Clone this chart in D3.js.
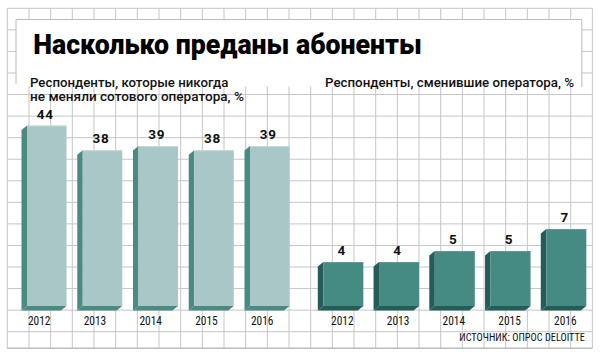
<!DOCTYPE html>
<html><head><meta charset="utf-8">
<script src="https://cdn.jsdelivr.net/npm/d3@7/dist/d3.min.js"></script>
<style>
html,body{margin:0;padding:0;background:#fff;}
svg{display:block;}
</style></head>
<body>
<svg id="chart" width="602" height="362"></svg>
<script>
// ---- data ----
const years = ["2012", "2013", "2014", "2015", "2016"];
const neverChanged = [44, 38, 39, 38, 39];
const changed = [4, 4, 5, 5, 7];
const title = "Насколько преданы абоненты";
const leftSubtitle = ["Респонденты, которые никогда", "не меняли сотового оператора, %"];
const rightSubtitle = "Респонденты, сменившие оператора, %";
const source = "ИСТОЧНИК: ОПРОС DELOITTE";

// ---- layout ----
const svg = d3.select("#chart");
const gridX0 = 7.3, gridX1 = 592.3, gridY0 = 8.3, gridY1 = 348.3;
const cellW = 21.67, cellH = 21.56;
const gridColor = "#c6c6c6";
const base = 306;           // front face bottom
const depth = [-5.5, 4.5];  // 3D extrusion

// grid
const g = svg.append("g");
const vx = d3.range(gridX0, gridX1 + 1, cellW);
g.selectAll("line.v").data(vx).join("line")
  .attr("x1", d => d).attr("x2", d => d)
  .attr("y1", gridY0).attr("y2", gridY1)
  .attr("stroke", gridColor).attr("stroke-width", 1);
const hy = d3.range(gridY0, gridY1 - 5, cellH);
g.selectAll("line.h").data(hy).join("line")
  .attr("x1", gridX0).attr("x2", gridX1)
  .attr("y1", d => d).attr("y2", d => d)
  .attr("stroke", gridColor).attr("stroke-width", 1);
g.append("line").attr("x1", gridX0).attr("x2", gridX1)
  .attr("y1", gridY1).attr("y2", gridY1)
  .attr("stroke", "#bdbdbd").attr("stroke-width", 1.6);

// white header panel
svg.append("rect").attr("x", 16).attr("y", 19.5).attr("width", 566).attr("height", 67)
  .attr("fill", "#fff");
svg.append("path")
  .attr("d", "M16,84 L16,19.5 L581.8,19.5 L581.8,87")
  .attr("fill", "none").attr("stroke", "#bcbcbc").attr("stroke-width", 1);

function fitText(sel, len) {
  sel.attr("textLength", len).attr("lengthAdjust", "spacingAndGlyphs");
  return sel;
}
// title
fitText(svg.append("text").attr("x", 33.3).attr("y", 54)
  .attr("font-family", "Roboto, 'Open Sans', sans-serif").attr("font-weight", 900)
  .attr("font-size", 28).attr("fill", "#000").text(title), 388.5);

const subFont = "Roboto, 'Noto Sans', sans-serif";
fitText(svg.append("text").attr("x", 30).attr("y", 87)
  .attr("font-family", subFont).attr("font-weight", 500).attr("font-size", 13)
  .attr("fill", "#111").text(leftSubtitle[0]), 198.3);
fitText(svg.append("text").attr("x", 30).attr("y", 100.7)
  .attr("font-family", subFont).attr("font-weight", 500).attr("font-size", 13)
  .attr("fill", "#111").text(leftSubtitle[1]), 214);
fitText(svg.append("text").attr("x", 325).attr("y", 87.3)
  .attr("font-family", subFont).attr("font-weight", 500).attr("font-size", 13)
  .attr("fill", "#111").text(rightSubtitle), 249);

const narrowFont = "'Liberation Sans Narrow', 'Roboto Condensed', Roboto, sans-serif";

// panels
function drawPanel(values, opts) {
  const x = d3.scaleBand().domain(years).range(opts.xRange)
    .paddingInner(opts.padInner).paddingOuter(0);
  const y = d3.scaleLinear().domain(opts.yDomain).range([base, base - opts.yPx]);
  const pg = svg.append("g");
  const data = years.map((yr, i) => ({ yr, v: values[i] }));
  const [dx, dy] = depth;
  const bars = pg.selectAll("g.bar").data(data).join("g");
  // left side face
  bars.append("path").attr("fill", opts.side).attr("d", d => {
    const x0 = x(d.yr), t = y(d.v);
    return `M${x0},${t} L${x0 + dx},${t + dy} L${x0 + dx},${base + dy} L${x0},${base} Z`;
  });
  // bottom face
  bars.append("path").attr("fill", opts.side).attr("d", d => {
    const x0 = x(d.yr), x1 = x0 + x.bandwidth();
    return `M${x0},${base} L${x1},${base} L${x1 + dx},${base + dy} L${x0 + dx},${base + dy} Z`;
  });
  // front face
  bars.append("rect").attr("fill", opts.front)
    .attr("x", d => x(d.yr)).attr("y", d => y(d.v))
    .attr("width", x.bandwidth()).attr("height", d => base - y(d.v));
  // highlight on top edge
  bars.append("line").attr("stroke", opts.hi).attr("stroke-width", 1)
    .attr("x1", d => x(d.yr)).attr("x2", d => x(d.yr) + x.bandwidth())
    .attr("y1", d => y(d.v) + 0.5).attr("y2", d => y(d.v) + 0.5);
  // value labels
  bars.append("text")
    .attr("x", d => x(d.yr) + x.bandwidth() / 2 - 1.5)
    .attr("y", d => y(d.v) - 6.8)
    .attr("text-anchor", "middle")
    .attr("font-family", "Roboto, 'DejaVu Sans', sans-serif").attr("font-weight", 700)
    .attr("font-size", 13.5).attr("letter-spacing", 0.8).attr("fill", "#111")
    .text(d => d.v);
  // year labels
  bars.append("text")
    .attr("x", d => x(d.yr) + x.bandwidth() / 2 + opts.yearShift)
    .attr("y", 324.5)
    .attr("text-anchor", "middle")
    .attr("font-family", narrowFont)
    .attr("font-size", 12).attr("fill", "#111")
    .attr("textLength", 22.5).attr("lengthAdjust", "spacingAndGlyphs")
    .text(d => d.yr);
}

drawPanel(neverChanged, {
  xRange: [27, 289.5], padInner: 0.2915,
  yDomain: [0, 50], yPx: 205,
  front: "#a8c7c6", side: "#4b8a82", hi: "#c4dad9", yearShift: -7.5
});
drawPanel(changed, {
  xRange: [323.3, 586.3], padInner: 0.282,
  yDomain: [0, 10], yPx: 110,
  front: "#468a84", side: "#245d57", hi: "#5e9c96", yearShift: -1
});

// source
fitText(svg.append("text").attr("x", 459.3).attr("y", 341)
  .attr("font-family", narrowFont)
  .attr("font-size", 10.5).attr("fill", "#111").text(source), 125.7);
</script>
</body></html>
